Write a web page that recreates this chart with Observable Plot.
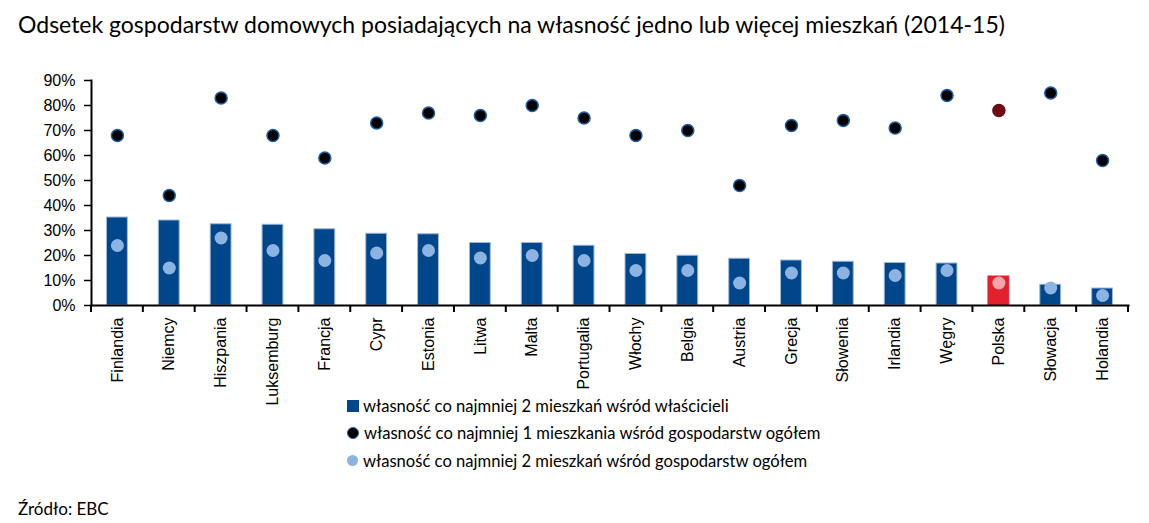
<!DOCTYPE html>
<html>
<head>
<meta charset="utf-8">
<script src="https://cdn.jsdelivr.net/npm/d3@7"></script>
<script src="https://cdn.jsdelivr.net/npm/@observablehq/plot@0.6"></script>
<style>
  body { margin: 0; background: #fff; }
  #wrap { position: relative; width: 1149px; height: 523px; overflow: hidden; background: #fff; }
  #title { position: absolute; left: 18px; top: 10px; font-family: "Lato", sans-serif; font-size: 23px; color: #000; white-space: nowrap; }
  #chart { position: absolute; left: 0; top: 0; }
  #chart svg { overflow: visible; }
  #legend { position: absolute; left: 347px; top: 392px; font-family: "Lato", sans-serif; font-size: 16.6px; color: #000; }
  .row { display: flex; align-items: center; height: 27.5px; white-space: nowrap; }
  .sw { width: 12px; height: 12px; margin-right: 4px; flex: none; }
  #source { position: absolute; left: 18px; top: 498px; font-family: "Lato", sans-serif; font-size: 17px; color: #000; }
</style>
</head>
<body>
<div id="wrap">
  <div id="title">Odsetek gospodarstw domowych posiadających na własność jedno lub więcej mieszkań (2014-15)</div>
  <div id="chart"></div>
  <div id="legend"></div>
  <div id="source">Źródło: EBC</div>
</div>
<script>
// ---- data ----
const categories = ["Finlandia","Niemcy","Hiszpania","Luksemburg","Francja","Cypr","Estonia","Litwa","Malta","Portugalia","Włochy","Belgia","Austria","Grecja","Słowenia","Irlandia","Węgry","Polska","Słowacja","Holandia"];
const ownersTwoPlus = [35.2,34.0,32.5,32.3,30.5,28.7,28.5,25.0,25.0,23.9,20.6,19.9,18.7,18.0,17.5,17.0,16.8,11.6,8.3,6.8];
const allOnePlus = [68,44,83,68,59,73,77,76,80,75,68,70,48,72,74,71,84,78,85,58];
const allTwoPlus = [24,15,27,22,18,21,22,19,20,18,14,14,9,13,13,12,14,9,7,4];
const yTicks = [0,10,20,30,40,50,60,70,80,90];
const highlight = "Polska";
const seriesNames = [
  "własność co najmniej 2 mieszkań wśród właścicieli",
  "własność co najmniej 1 mieszkania wśród gospodarstw ogółem",
  "własność co najmniej 2 mieszkań wśród gospodarstw ogółem"
];

// ---- colours ----
const C = {
  bar: "#00468B", barStroke: "#9fb8dc", barHi: "#E3202E",
  dark: "#000000", darkStroke: "#1f5fa8", darkHi: "#6e0b14",
  light: "#8DB3E2", lightHi: "#F3A6AA"
};

const data = categories.map((c, i) => ({
  country: c, owners: ownersTwoPlus[i], all1: allOnePlus[i], all2: allTwoPlus[i], hi: c === highlight
}));

const plot = Plot.plot({
  width: 1149, height: 420,
  marginLeft: 91, marginRight: 21, marginTop: 80, marginBottom: 115,
  style: { fontFamily: "Liberation Sans, Arial, sans-serif", fontSize: "16px", color: "#000", background: "transparent", overflow: "visible" },
  x: { domain: categories, padding: 0, round: false, label: null },
  y: { domain: [0, 90], label: null },
  marks: [
    Plot.barY(data, { x: "country", y: "owners", fill: d => d.hi ? C.barHi : C.bar,
      stroke: d => d.hi ? C.barHi : C.barStroke, strokeWidth: 1, insetLeft: 15.5, insetRight: 15.5 }),
    Plot.dot(data, { x: "country", y: "all2", r: 6.5, fill: d => d.hi ? C.lightHi : C.light }),
    Plot.dot(data, { x: "country", y: "all1", r: 6, fill: d => d.hi ? C.darkHi : C.dark,
      stroke: d => d.hi ? C.darkHi : C.darkStroke, strokeWidth: 1.5 }),
    Plot.axisY({ ticks: yTicks, tickFormat: d => d + "%", tickSize: 7, tickPadding: 9, label: null, fontSize: 16, strokeWidth: 1.5 }),
    Plot.axisX({ tickRotate: -90, tickSize: 0, tickPadding: 12, label: null, fontSize: 16 }),
    Plot.frame({ anchor: "left", strokeWidth: 2 }),
    Plot.frame({ anchor: "bottom", strokeWidth: 2 })
  ]
});

// boundary tick marks on the x axis, from the plot's own x scale
const xs = plot.scale("x");
const ys = plot.scale("y");
const y0 = ys.apply(0);
const bounds = categories.map(c => xs.apply(c)).concat([xs.apply(categories[categories.length - 1]) + xs.bandwidth]);
const g = d3.select(plot).append("g").attr("stroke", "#000").attr("stroke-width", 2);
bounds.forEach(b => g.append("line").attr("x1", b).attr("x2", b).attr("y1", y0).attr("y2", y0 + 7));

document.getElementById("chart").appendChild(plot);

// legend
const leg = document.getElementById("legend");
const markers = [
  `<div class="sw" style="background:${C.bar}"></div>`,
  `<div class="sw" style="border-radius:50%;width:10px;height:10px;background:${C.dark};border:1px solid ${C.darkStroke};margin-right:5px"></div>`,
  `<div class="sw" style="border-radius:50%;width:11px;height:11px;background:${C.light};margin-right:5px"></div>`
];
seriesNames.forEach((n, i) => {
  const r = document.createElement("div");
  r.className = "row";
  r.innerHTML = markers[i] + `<span>${n}</span>`;
  leg.appendChild(r);
});
</script>
</body>
</html>
